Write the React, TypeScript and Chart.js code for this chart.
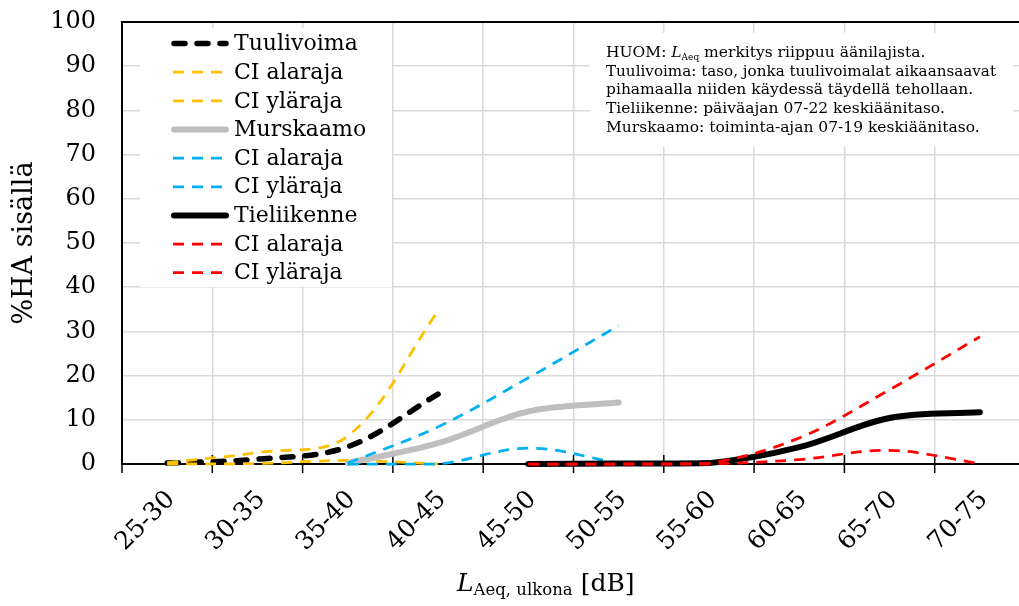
import React, { useEffect, useRef } from 'react';
import { Chart, registerables } from 'chart.js';

Chart.register(...registerables);

const categories = ['25-30', '30-35', '35-40', '40-45', '45-50', '50-55', '55-60', '60-65', '65-70', '70-75'];

const tuulivoima = [0.2, 1.1, 3.9, 15.8, null, null, null, null, null, null];
const tuuliCiLow = [0.0, 0.1, 0.8, 0.0, null, null, null, null, null, null];
const tuuliCiHigh = [0.3, 2.6, 6.3, 34.6, null, null, null, null, null, null];

const murskaamo = [null, null, 0.2, 4.7, 11.9, 13.9, null, null, null, null];
const murskCiLow = [null, null, 0.0, 0.0, 3.6, 0.2, null, null, null, null];
const murskCiHigh = [null, null, 0.2, 8.4, 19.5, 31.3, null, null, null, null];

const tieliikenne = [null, null, null, null, 0.0, 0.1, 0.2, 3.8, 10.4, 11.7];
const tieCiLow = [null, null, null, null, 0.0, 0.0, 0.0, 1.0, 3.1, 0.1];
const tieCiHigh = [null, null, null, null, 0.0, 0.0, 0.2, 5.9, 16.8, 28.8];

const yMin = 0;
const yMax = 100;
const yStep = 10;

const legendLabels = ['Tuulivoima', 'CI alaraja', 'CI yläraja', 'Murskaamo', 'CI alaraja', 'CI yläraja', 'Tieliikenne', 'CI alaraja', 'CI yläraja'];

const noteLines = [
  'Tuulivoima: taso, jonka tuulivoimalat aikaansaavat',
  'pihamaalla niiden käydessä täydellä tehollaan.',
  'Tieliikenne: päiväajan 07-22 keskiäänitaso.',
  'Murskaamo: toiminta-ajan 07-19 keskiäänitaso.',
];

const yTitle = '%HA sisällä';

const SERIF = "'DejaVu Serif', 'Liberation Serif', serif";
const YELLOW = '#FFC000';
const BLUE = '#00B0F0';
const RED = '#FF0000';
const GREY = '#BFBFBF';

const styles = [
  { color: '#000', width: 5.5, dash: [11, 12], cap: 'round' },
  { color: YELLOW, width: 2.75, dash: [11, 8], cap: 'butt' },
  { color: YELLOW, width: 2.75, dash: [11, 8], cap: 'butt' },
  { color: GREY, width: 6, dash: [], cap: 'round' },
  { color: BLUE, width: 2.75, dash: [11, 8], cap: 'butt' },
  { color: BLUE, width: 2.75, dash: [11, 8], cap: 'butt' },
  { color: '#000', width: 6, dash: [], cap: 'round' },
  { color: RED, width: 2.75, dash: [11, 8], cap: 'butt' },
  { color: RED, width: 2.75, dash: [11, 8], cap: 'butt' },
];

const seriesData = [tuulivoima, tuuliCiLow, tuuliCiHigh, murskaamo, murskCiLow, murskCiHigh, tieliikenne, tieCiLow, tieCiHigh];

const overlayPlugin = {
  id: 'overlay',
  beforeDatasetsDraw(chart: any) {
    const ctx = chart.ctx;
    const { left, top, right } = chart.chartArea;
    ctx.save();
    ctx.fillStyle = '#fff';
    ctx.fillRect(140, 28, 252, 259);
    ctx.fillRect(590, 33, 423, 114);
    ctx.strokeStyle = '#000';
    ctx.lineWidth = 2;
    ctx.beginPath();
    ctx.moveTo(left - 1, top);
    ctx.lineTo(right, top);
    ctx.stroke();
    // crossing tick marks on x axis (category boundaries)
    const xs = chart.scales.x;
    const bottom = chart.chartArea.bottom;
    const step = xs.getPixelForValue(1) - xs.getPixelForValue(0);
    ctx.lineWidth = 1.5;
    for (let i = 0; i <= categories.length; i++) {
      const px = xs.getPixelForValue(0) - step / 2 + i * step;
      ctx.beginPath();
      ctx.moveTo(px, bottom - 9);
      ctx.lineTo(px, bottom + 9);
      ctx.stroke();
    }
    ctx.restore();
  },
  afterDatasetsDraw(chart: any) {
    const ctx = chart.ctx;
    ctx.save();
    // legend
    for (let i = 0; i < legendLabels.length; i++) {
      const y = 43.5 + i * 28.65;
      const s = styles[i];
      ctx.strokeStyle = s.color;
      ctx.lineWidth = s.width;
      ctx.lineCap = s.cap;
      ctx.setLineDash(s.dash);
      ctx.beginPath();
      ctx.moveTo(s.cap === 'round' ? 174 : 173, y);
      ctx.lineTo(s.cap === 'round' ? 226 : 229, y);
      ctx.stroke();
      ctx.setLineDash([]);
      ctx.fillStyle = '#000';
      ctx.font = `22px ${SERIF}`;
      ctx.textAlign = 'left';
      ctx.textBaseline = 'middle';
      ctx.fillText(legendLabels[i], 234, y + 1);
    }
    // note
    ctx.fillStyle = '#000';
    ctx.textBaseline = 'alphabetic';
    ctx.textAlign = 'left';
    let x = 606;
    const b0 = 57;
    ctx.font = `15.5px ${SERIF}`;
    ctx.fillText('HUOM: ', x, b0);
    x += ctx.measureText('HUOM: ').width;
    ctx.font = `italic 15.5px ${SERIF}`;
    ctx.fillText('L', x, b0);
    x += ctx.measureText('L').width;
    ctx.font = `9px ${SERIF}`;
    ctx.fillText('Aeq', x, b0 + 3);
    x += ctx.measureText('Aeq').width;
    ctx.font = `15.5px ${SERIF}`;
    ctx.fillText(' merkitys riippuu äänilajista.', x, b0);
    for (let i = 0; i < noteLines.length; i++) {
      ctx.fillText(noteLines[i], 606, b0 + (i + 1) * 18.7, 390);
    }
    // x axis title
    let tx = 457;
    ctx.font = `italic 25px ${SERIF}`;
    ctx.fillText('L', tx, 591);
    tx += ctx.measureText('L').width;
    ctx.font = `16.5px ${SERIF}`;
    ctx.fillText('Aeq, ulkona', tx, 595);
    tx += ctx.measureText('Aeq, ulkona').width + 8;
    ctx.font = `25px ${SERIF}`;
    ctx.fillText('[dB]', tx, 591);
    ctx.restore();
  },
};

export default function App() {
  const ref = useRef<HTMLCanvasElement | null>(null);
  useEffect(() => {
    if (!ref.current) return;
    const datasets = seriesData.map((d, i) => ({
      label: legendLabels[i],
      data: d,
      borderColor: styles[i].color,
      backgroundColor: styles[i].color,
      borderWidth: styles[i].width,
      borderDash: styles[i].dash,
      borderCapStyle: styles[i].cap,
      borderJoinStyle: 'round',
      tension: 0.35,
      pointRadius: 0,
      pointHoverRadius: 0,
      fill: false,
      clip: false,
      order: seriesData.length - i,
    }));
    const chart = new Chart(ref.current, {
      type: 'line',
      data: { labels: categories, datasets },
      plugins: [overlayPlugin],
      options: {
        animation: false,
        responsive: false,
        maintainAspectRatio: false,
        layout: { padding: { top: 22, right: 5, bottom: 0, left: 0 } },
        plugins: {
          legend: { display: false },
          tooltip: { enabled: false },
          title: { display: false },
        },
        scales: {
          x: {
            type: 'category',
            offset: true,
            grid: { offset: true, color: '#d9d9d9', lineWidth: 1.5, drawTicks: false },
            border: { display: true, color: '#000', width: 2 },
            ticks: {
              color: '#000',
              font: { family: SERIF, size: 25 },
              minRotation: 45,
              maxRotation: 45,
              padding: 21,
              labelOffset: 4,
              autoSkip: false,
            },
            afterFit: (scale: any) => {
              scale.height = 142;
              scale.paddingLeft = 0;
              scale.paddingRight = 0;
            },
          },
          y: {
            min: yMin,
            max: yMax,
            grid: { color: '#d9d9d9', lineWidth: 1.5, drawTicks: false },
            border: { display: true, color: '#000', width: 2 },
            ticks: {
              stepSize: yStep,
              color: '#000',
              font: { family: SERIF, size: 24 },
              padding: 26,
            },
            title: {
              display: true,
              text: yTitle,
              color: '#000',
              font: { family: SERIF, size: 27 },
              padding: { top: 9, bottom: 0 },
            },
            afterFit: (scale: any) => {
              scale.width = 122;
              scale.paddingTop = 0;
              scale.paddingBottom = 0;
            },
          },
        },
      },
    });
    return () => chart.destroy();
  }, []);
  return (
    <div style={{ position: 'fixed', left: 0, top: 0, width: 1019, height: 606, overflow: 'hidden', background: '#fff' }}>
      <canvas ref={ref} width={1030} height={606} style={{ display: 'block' }} />
    </div>
  );
}
